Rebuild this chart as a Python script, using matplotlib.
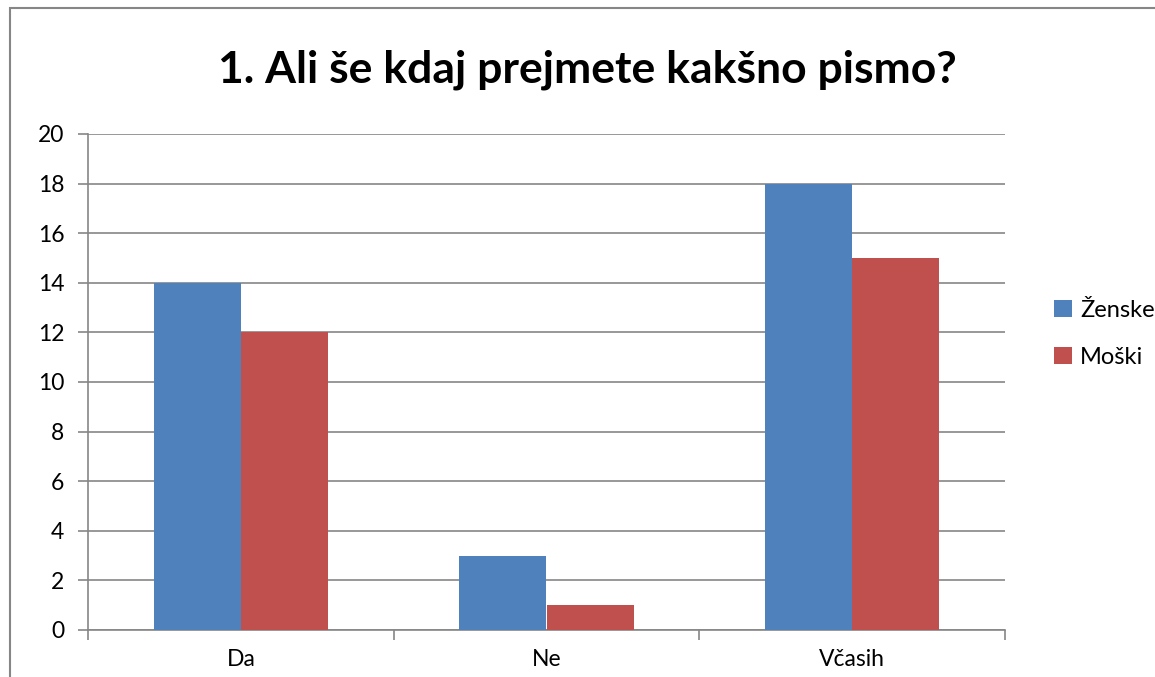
import matplotlib
matplotlib.use("Agg")
import matplotlib.pyplot as plt
import numpy as np
from matplotlib.patches import Rectangle, Patch

categories = ["Da", "Ne", "Včasih"]
series_names = ["Ženske", "Moški"]
zenske = [14, 3, 18]
moski = [12, 1, 15]
yticks = [0, 2, 4, 6, 8, 10, 12, 14, 16, 18, 20]

plt.rcParams['font.family'] = ['Lato', 'DejaVu Sans']
W, H = 1155, 677
fig = plt.figure(figsize=(W / 100, H / 100), dpi=100)

# outer chart border (right and bottom edges fall outside the image)
fig.patches.append(Rectangle((10 / W, -0.2), 1.2, 1.2 - 8 / H, transform=fig.transFigure,
                             fill=False, edgecolor="#868686", linewidth=1.5))

ax = fig.add_axes([88 / W, 1 - 630 / H, (1005 - 88) / W, (630 - 134) / H])
x = np.arange(len(categories))
bw = 1 / 3.5
blue, red = "#4F81BD", "#C0504D"
ax.bar(x - bw / 2, zenske, bw, color=blue, zorder=3)
ax.bar(x + bw / 2, moski, bw, color=red, zorder=3)

ax.set_xlim(-0.5, len(categories) - 0.5)
ax.set_ylim(0, 20)
ax.set_yticks(yticks)
ax.set_yticklabels([str(v) for v in yticks], fontsize=16.5)
ax.set_xticks([-0.5, 0.5, 1.5, 2.5])
ax.set_xticklabels([])
ax.set_xticks(x, minor=True)
ax.set_xticklabels(categories, minor=True, fontsize=16.5)
ax.tick_params(axis='x', which='minor', length=0, pad=14)
ax.tick_params(axis='x', which='major', length=7, color="#868686", width=1.2)
ax.tick_params(axis='y', length=7, color="#868686", width=1.2, pad=10)
ax.grid(axis='y', color="#868686", linewidth=1.2, zorder=0)
for s in ["top", "right"]:
    ax.spines[s].set_visible(False)
for s in ["left", "bottom"]:
    ax.spines[s].set_color("#868686")
    ax.spines[s].set_linewidth(1.2)

fig.text(587 / W, 1 - 70 / H, "1. Ali še kdaj prejmete kakšno pismo?", ha="center", va="center",
         fontsize=32, fontweight="bold")

handles = [Patch(facecolor=blue), Patch(facecolor=red)]
fig.legend(handles, series_names, loc="center left", bbox_to_anchor=(1054 / W, 1 - 334 / H),
           frameon=False, fontsize=17, handlelength=0.75, handleheight=0.75, handletextpad=0.35,
           labelspacing=1.1, borderaxespad=0, borderpad=0)

fig.savefig("out.png", dpi=100)
